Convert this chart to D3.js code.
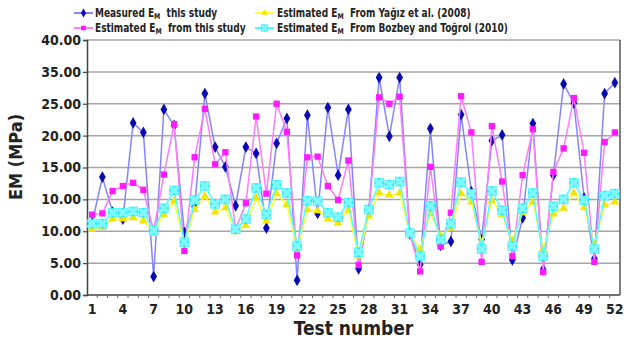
<!DOCTYPE html>
<html>
<head>
<meta charset="utf-8">
<script src="https://cdn.jsdelivr.net/npm/d3@7"></script>
<style>
  html, body { margin: 0; padding: 0; background: #fff; }
  svg { display: block; }
  text { font-family: "DejaVu Sans Condensed", "DejaVu Sans", Verdana, sans-serif; font-weight: bold; fill: #222; white-space: pre; }
</style>
</head>
<body>
<svg id="chart" width="628" height="342"></svg>
<script>
// Test numbers 1..52
const tests = d3.range(1, 53);

// Modulus values (MPa) per test
const measured = [11.3, 18.5, 13.0, 11.9, 27.0, 25.5, 2.9, 29.1, 26.6, 9.8, 13.9, 31.6, 23.2, 20.1, 14.0, 23.2, 22.2, 10.5, 23.8, 27.7, 2.3, 28.2, 12.8, 29.4, 18.8, 29.1, 4.1, 13.3, 34.1, 24.9, 34.1, 9.6, 4.8, 26.1, 7.8, 8.4, 28.3, 16.2, 8.7, 24.2, 25.1, 5.5, 12.1, 26.9, 4.0, 18.8, 33.1, 30.1, 15.2, 5.7, 31.6, 33.3];
const estThisStudy = [12.6, 12.8, 16.3, 17.1, 17.6, 16.5, 10.0, 18.9, 26.8, 6.9, 21.6, 29.2, 20.5, 22.4, 10.3, 14.4, 28.0, 15.9, 30.0, 25.6, 6.2, 21.6, 21.7, 17.1, 14.9, 21.1, 4.7, 13.3, 31.0, 30.0, 31.1, 9.6, 3.7, 20.1, 7.6, 12.9, 31.2, 25.5, 5.2, 26.5, 17.8, 6.1, 18.8, 26.0, 3.6, 19.3, 23.0, 30.9, 22.3, 5.2, 24.0, 25.5];
const estYagiz = [10.3, 10.6, 11.9, 11.9, 12.1, 11.6, 9.8, 12.6, 14.7, 8.0, 13.4, 15.5, 13.0, 13.7, 9.9, 10.9, 15.2, 11.6, 15.9, 14.2, 7.2, 13.4, 13.2, 11.9, 11.3, 13.3, 6.1, 12.4, 16.0, 15.7, 16.0, 9.6, 7.2, 12.8, 9.3, 10.5, 15.9, 14.6, 8.2, 14.8, 12.6, 8.5, 12.9, 14.6, 7.2, 12.7, 13.6, 16.0, 13.7, 8.0, 14.1, 14.6];
const estBozbey = [11.2, 11.2, 12.9, 12.9, 13.1, 12.9, 10.1, 13.6, 16.4, 8.3, 14.9, 17.1, 14.3, 15.0, 10.3, 11.9, 16.8, 12.6, 17.3, 16.0, 7.7, 14.8, 14.7, 12.9, 12.2, 14.5, 6.7, 13.4, 17.6, 17.3, 17.8, 9.7, 6.1, 14.0, 8.7, 11.2, 17.7, 15.9, 7.2, 16.3, 13.3, 7.7, 13.6, 16.0, 6.1, 13.9, 15.0, 17.6, 14.9, 7.2, 15.6, 15.9];

// Axis tick values and the labels printed beside them
const yTickValues = [0, 5, 10, 15, 20, 25, 30, 35, 40];
const yTickLabels = ["0.00", "5.00", "10.00", "10.00", "15.00", "20.00", "25.00", "35.00", "40.00"];
const xTickLabels = tests.filter(t => (t - 1) % 3 === 0);

const seriesList = [
  { name: "Measured", tail: "  this study", values: measured, line: "#8585ff", fill: "#0a0ab4", shape: "diamond" },
  { name: "Estimated", tail: "  from this study", values: estThisStudy, line: "#ff7bff", fill: "#ff1aff", shape: "square" },
  { name: "Estimated", tail: "  From Yağız et al. (2008)", values: estYagiz, line: "#ffff33", fill: "#f2e600", shape: "triangle" },
  { name: "Estimated", tail: "  From Bozbey and Toğrol (2010)", values: estBozbey, line: "#4dffff", fill: "#26e9f2", shape: "star" }
];

const svg = d3.select("#chart");
const plot = { left: 87, right: 620, top: 40, bottom: 295 };

const x = d3.scaleBand().domain(tests).range([plot.left, plot.right]).padding(0);
const cx = d => x(d) + x.bandwidth() / 2;
const y = d3.scaleLinear().domain([0, 40]).range([plot.bottom, plot.top]);

// Horizontal gridlines
svg.append("g").selectAll("line").data(yTickValues.slice(1)).join("line")
  .attr("x1", plot.left).attr("x2", plot.right)
  .attr("y1", d => y(d)).attr("y2", d => y(d))
  .attr("stroke", "#a6a6a6").attr("stroke-width", 1.5);

// Plot frame (right side)
svg.append("line")
  .attr("x1", plot.right).attr("x2", plot.right)
  .attr("y1", plot.top).attr("y2", plot.bottom)
  .attr("stroke", "#555").attr("stroke-width", 1.5);

// Y axis
const yAxis = svg.append("g").attr("transform", `translate(${plot.left},0)`)
  .call(d3.axisLeft(y).tickValues(yTickValues).tickSize(4).tickPadding(2)
    .tickFormat((d, i) => yTickLabels[i]));
yAxis.select(".domain").attr("stroke", "#444").attr("stroke-width", 1.5);
yAxis.selectAll(".tick line").attr("stroke", "#444").attr("stroke-width", 1.2);
yAxis.selectAll("text").style("font-size", "14px").attr("fill", "#222");

// X axis: small ticks at category boundaries, labels every third test
const xAxis = svg.append("g").attr("transform", `translate(0,${plot.bottom})`);
xAxis.append("line").attr("x1", plot.left).attr("x2", plot.right)
  .attr("stroke", "#444").attr("stroke-width", 1.5);
xAxis.selectAll("line.minor").data(tests.slice(1)).join("line").attr("class", "minor")
  .attr("x1", d => x(d)).attr("x2", d => x(d)).attr("y1", 0).attr("y2", 3)
  .attr("stroke", "#666").attr("stroke-width", 1);
xAxis.call(g => g.append("g")
  .call(d3.axisBottom(x).tickValues(xTickLabels).tickSize(0).tickPadding(9))
  .call(a => a.select(".domain").remove())
  .selectAll("text").style("font-size", "14px").attr("fill", "#222"));

// Axis titles
svg.append("text").attr("x", (plot.left + plot.right) / 2).attr("y", 335)
  .attr("text-anchor", "middle").style("font-size", "19px").text("Test number");
svg.append("text").attr("transform", "translate(22,157) rotate(-90)")
  .attr("text-anchor", "middle").style("font-size", "18px").text("EM (MPa)");

// Marker shapes
const symbolFor = {
  diamond: d3.symbol().type(d3.symbolDiamond).size(40),
  square: d3.symbol().type(d3.symbolSquare).size(40),
  triangle: d3.symbol().type(d3.symbolTriangle).size(32),
  star: d3.symbol().type(d3.symbolSquare).size(90)
};
function drawMarker(sel, s) {
  sel.append("path").attr("d", symbolFor[s.shape]()).attr("fill", s.fill);
  if (s.shape === "star") {
    sel.append("path").attr("d", d3.symbol().type(d3.symbolCross).size(70)())
      .attr("transform", "rotate(45)").attr("fill", "#7ff7ff");
  }
}

const line = d3.line().x((d, i) => cx(tests[i])).y(d => y(d));

seriesList.forEach(s => {
  const g = svg.append("g");
  g.append("path").datum(s.values).attr("d", line)
    .attr("fill", "none").attr("stroke", s.line).attr("stroke-width", 1.5);
  g.selectAll("g.m").data(s.values).join("g").attr("class", "m")
    .attr("transform", (d, i) => `translate(${cx(tests[i])},${y(d)})`)
    .each(function () { drawMarker(d3.select(this), s); });
});

// Legend
const legendPos = [
  { x: 74, y: 13, tx: 95 },
  { x: 74, y: 28, tx: 95 },
  { x: 255, y: 13, tx: 277 },
  { x: 255, y: 28, tx: 277 }
];
seriesList.forEach((s, i) => {
  const p = legendPos[i];
  const g = svg.append("g");
  g.append("line").attr("x1", p.x).attr("x2", p.x + 19).attr("y1", p.y).attr("y2", p.y)
    .attr("stroke", s.line).attr("stroke-width", 2);
  const mk = g.append("g").attr("transform", `translate(${p.x + 9.5},${p.y}) scale(0.75)`);
  drawMarker(mk, s);
  const t = g.append("text")
    .attr("transform", `translate(${p.tx},${p.y + 4}) scale(0.87,1)`)
    .style("font-size", "11.5px");
  t.append("tspan").text(s.name + " E");
  t.append("tspan").attr("dy", 2).style("font-size", "8px").text("M");
  t.append("tspan").attr("dy", -2).text(s.tail);
});
</script>
</body>
</html>
